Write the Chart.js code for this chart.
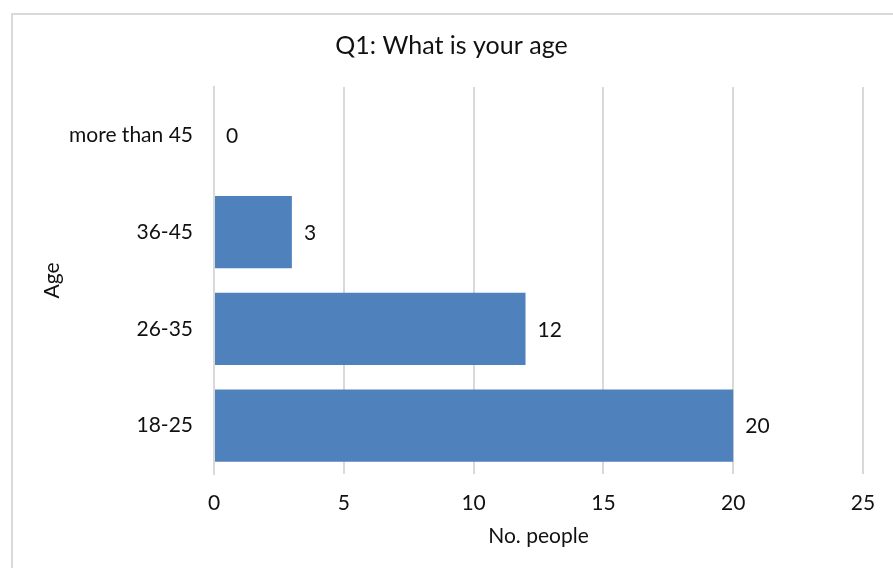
<!DOCTYPE html>
<html>
<head>
<meta charset="utf-8">
<script src="https://cdn.jsdelivr.net/npm/chart.js@4"></script>
<style>
  html, body { margin: 0; padding: 0; background: #fff; overflow: hidden; }
  .frame {
    position: absolute; left: 11px; top: 13px; width: 900px; height: 600px;
    border-left: 2px solid #d9d9d9; border-top: 2px solid #d9d9d9;
  }
  #ageChart { position: absolute; left: 0; top: 0; }
</style>
</head>
<body>
<div class="frame"></div>
<canvas id="ageChart" width="893" height="568"></canvas>
<script>
const ageGroups = ["more than 45", "36-45", "26-35", "18-25"];
const peopleCounts = [0, 3, 12, 20];
const xTicks = [0, 5, 10, 15, 20, 25];

const FONT = "Lato, 'Open Sans', sans-serif";
const TEXT = "#111111";
const GRID = "#d9d9d9";

// write the count just past the end of each bar
const barValueLabels = {
  id: "barValueLabels",
  afterDatasetsDraw(chart) {
    const { ctx } = chart;
    const meta = chart.getDatasetMeta(0);
    ctx.save();
    ctx.font = "21px " + FONT;
    ctx.fillStyle = TEXT;
    ctx.textAlign = "left";
    ctx.textBaseline = "middle";
    meta.data.forEach((bar, i) => {
      ctx.fillText(String(peopleCounts[i]), bar.x + 12, bar.y + 1);
    });
    ctx.restore();
  },
};

new Chart(document.getElementById("ageChart"), {
  type: "bar",
  data: {
    labels: ageGroups,
    datasets: [
      {
        label: "No. people",
        data: peopleCounts,
        backgroundColor: "#4f81bd",
        borderWidth: 0,
        categoryPercentage: 1,
        barPercentage: 0.745,
      },
    ],
  },
  options: {
    indexAxis: "y",
    responsive: false,
    animation: false,
    layout: { padding: { left: 40, right: 30, top: 0, bottom: 19 } },
    plugins: {
      legend: { display: false },
      tooltip: { enabled: false },
      title: {
        display: true,
        text: "Q1: What is your age",
        color: TEXT,
        font: { family: FONT, size: 25, weight: "normal" },
        padding: { top: 31, bottom: 26 },
      },
    },
    scales: {
      x: {
        min: 0,
        max: 25,
        afterBuildTicks: (scale) => {
          scale.ticks = xTicks.map((v) => ({ value: v }));
        },
        afterFit: (scale) => {
          scale.height = 75;
        },
        grid: { color: GRID, lineWidth: 2, drawTicks: false },
        border: { display: false },
        ticks: { color: TEXT, padding: 17, font: { family: FONT, size: 21 } },
        title: {
          display: true,
          text: "No. people",
          color: TEXT,
          font: { family: FONT, size: 21 },
          padding: 0,
        },
      },
      y: {
        grid: { display: false, drawTicks: false },
        border: { display: true, color: GRID, width: 2 },
        ticks: { color: TEXT, padding: 21, font: { family: FONT, size: 21 } },
        afterFit: (scale) => {
          scale.width = 214 - 40;
        },
        title: {
          display: true,
          text: "Age",
          color: TEXT,
          font: { family: FONT, size: 21 },
          padding: 0,
        },
      },
    },
  },
  plugins: [barValueLabels],
});
</script>
</body>
</html>
